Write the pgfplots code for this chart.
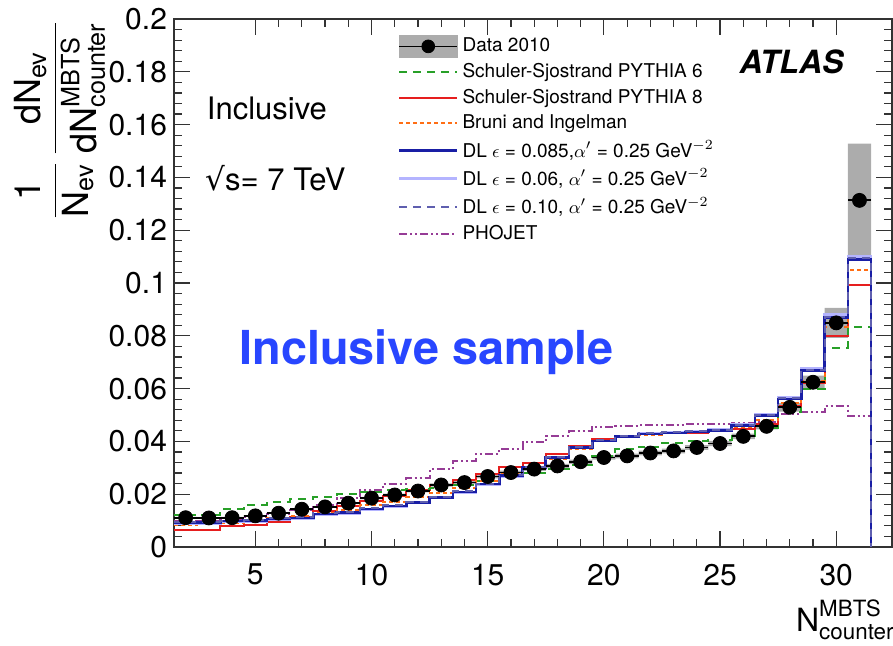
\documentclass[border=0pt]{standalone}
\usepackage{pgfplots}
\pgfplotsset{compat=1.18}
\usepackage{pgfplotstable}
\usepgfplotslibrary{fillbetween}
\usepackage{amsmath}
\usepackage{fontspec}
\setmainfont{TeX Gyre Heros}
\newfontfamily\djv{DejaVu Sans}
\definecolor{cPsix}{RGB}{40,160,40}
\definecolor{cPeight}{RGB}{230,30,30}
\definecolor{cBI}{RGB}{255,110,20}
\definecolor{cDLa}{RGB}{25,30,165}
\definecolor{cDLb}{RGB}{180,180,255}
\definecolor{cDLc}{RGB}{95,95,175}
\definecolor{cPho}{RGB}{150,60,150}
\definecolor{cBlue}{RGB}{40,70,255}
\pgfplotstableread{
e d er p6 p8 bi dla dlb dlc pho
1.5 0.0111 0.0003 0.0120 0.0065 0.0085 0.0092 0.0088 0.0095 0.0098
2.5 0.0110 0.0003 0.0122 0.0066 0.0086 0.0093 0.0089 0.0096 0.0100
3.5 0.0111 0.0003 0.0145 0.0080 0.0092 0.0098 0.0095 0.0100 0.0105
4.5 0.0118 0.0003 0.0160 0.0082 0.0098 0.0100 0.0097 0.0102 0.0112
5.5 0.0128 0.0003 0.0170 0.0095 0.0108 0.0106 0.0103 0.0108 0.0125
6.5 0.0143 0.0004 0.0180 0.0115 0.0118 0.0110 0.0108 0.0112 0.0140
7.5 0.0152 0.0004 0.0188 0.0135 0.0128 0.0125 0.0122 0.0127 0.0160
8.5 0.0166 0.0004 0.0200 0.0155 0.0142 0.0130 0.0128 0.0132 0.0185
9.5 0.0185 0.0005 0.0210 0.0175 0.0158 0.0144 0.0142 0.0146 0.0215
10.5 0.0197 0.0005 0.0215 0.0195 0.0172 0.0156 0.0154 0.0158 0.0240
11.5 0.0212 0.0005 0.0220 0.0215 0.0188 0.0168 0.0166 0.0170 0.0262
12.5 0.0235 0.0006 0.0225 0.0235 0.0205 0.0187 0.0185 0.0189 0.0295
13.5 0.0244 0.0006 0.0235 0.0254 0.0225 0.0209 0.0207 0.0211 0.0326
14.5 0.0267 0.0007 0.0250 0.0277 0.0250 0.0238 0.0236 0.0240 0.0352
15.5 0.0282 0.0007 0.0265 0.0303 0.0280 0.0270 0.0268 0.0272 0.0371
16.5 0.0295 0.0007 0.0280 0.0320 0.0302 0.0300 0.0298 0.0302 0.0396
17.5 0.0307 0.0008 0.0295 0.0352 0.0335 0.0339 0.0337 0.0341 0.0421
18.5 0.0323 0.0008 0.0310 0.0383 0.0370 0.0377 0.0376 0.0379 0.0440
19.5 0.0339 0.0008 0.0345 0.0409 0.0400 0.0402 0.0402 0.0404 0.0453
20.5 0.0345 0.0009 0.0370 0.0421 0.0415 0.0418 0.0418 0.0420 0.0459
21.5 0.0356 0.0009 0.0380 0.0428 0.0425 0.0428 0.0429 0.0430 0.0461
22.5 0.0364 0.0009 0.0395 0.0430 0.0430 0.0432 0.0434 0.0434 0.0463
23.5 0.0377 0.0009 0.0400 0.0433 0.0435 0.0436 0.0439 0.0438 0.0465
24.5 0.0392 0.0010 0.0405 0.0438 0.0442 0.0442 0.0446 0.0444 0.0466
25.5 0.0419 0.0010 0.0420 0.0448 0.0455 0.0460 0.0465 0.0462 0.0468
26.5 0.0457 0.0011 0.0450 0.0467 0.0480 0.0497 0.0503 0.0499 0.0472
27.5 0.0529 0.0016 0.0510 0.0535 0.0545 0.0561 0.0568 0.0563 0.0503
28.5 0.0624 0.0025 0.0600 0.0620 0.0630 0.0668 0.0675 0.0670 0.0510
29.5 0.0849 0.0057 0.0755 0.0800 0.0835 0.0870 0.0880 0.0872 0.0535
30.5 0.1313 0.0215 0.0832 0.0994 0.1050 0.1090 0.1100 0.1095 0.0497
31.5 0.1313 0.0215 0 0 0 0 0 0 0
}\modtab
\begin{document}
\begin{tikzpicture}
\begin{axis}[
  scale only axis, width=359pt, height=264pt,
  xmin=1.5, xmax=32.4, ymin=0, ymax=0.2,
  axis line style={black!80, line width=0.7pt},
  xtick={5,10,15,20,25,30}, xticklabels={5,10,15,20,25,30},
  minor x tick num=4,
  ytick={0,0.02,0.04,0.06,0.08,0.1,0.12,0.14,0.16,0.18,0.2},
  yticklabels={0,0.02,0.04,0.06,0.08,0.1,0.12,0.14,0.16,0.18,0.2},
  minor y tick num=4,
  major tick length=8pt, minor tick length=4pt,
  tick style={black!80, line width=0.6pt},
  tick align=inside,
  ticklabel style={font=\fontsize{15}{15}\selectfont},
  xticklabel style={yshift=-5pt},
  legend style={font=\fontsize{9.5}{11}\selectfont, draw=none, fill=none,
    at={(0.303,0.98)}, anchor=north west, row sep=0.3pt,
    cells={anchor=west}},
  legend image code/.code={\draw[#1] (0pt,0pt) -- (29pt,0pt);},
  clip=true,
]
\addlegendimage{legend image code/.code={
  \fill[gray!65] (0pt,-5.5pt) rectangle (29pt,5.5pt);
  \draw[black, line width=0.8pt] (0pt,0pt) -- (29pt,0pt);
  \fill[black] (14.5pt,0pt) circle (3.2pt);}}
\addlegendentry{Data 2010}
\addlegendimage{cPsix, line width=1pt, dash pattern=on 4pt off 3pt}
\addlegendentry{Schuler-Sjostrand PYTHIA 6}
\addlegendimage{cPeight, line width=1pt}
\addlegendentry{Schuler-Sjostrand PYTHIA 8}
\addlegendimage{cBI, line width=1pt, dash pattern=on 2pt off 1.5pt}
\addlegendentry{Bruni and Ingelman}
\addlegendimage{cDLa, line width=1.3pt}
\addlegendentry{DL $\epsilon$ = 0.085,$\alpha'$ = 0.25 GeV$^{-2}$}
\addlegendimage{cDLb, line width=1.3pt}
\addlegendentry{DL $\epsilon$ = 0.06, $\alpha'$ = 0.25 GeV$^{-2}$}
\addlegendimage{cDLc, line width=1pt, dash pattern=on 4pt off 3pt}
\addlegendentry{DL $\epsilon$ = 0.10, $\alpha'$ = 0.25 GeV$^{-2}$}
\addlegendimage{cPho, line width=1pt, dash pattern=on 4pt off 1.5pt on 1pt off 1.5pt on 1pt off 1.5pt}
\addlegendentry{PHOJET}

% data uncertainty band
\addplot[name path=hi, draw=none, const plot mark left, forget plot] table[x=e, y expr=\thisrow{d}+\thisrow{er}]{\modtab};
\addplot[name path=lo, draw=none, const plot mark left, forget plot] table[x=e, y expr=\thisrow{d}-\thisrow{er}]{\modtab};
\addplot[gray!65, forget plot] fill between[of=hi and lo];

% models
\addplot[cPho, line width=1pt, dash pattern=on 4pt off 1.5pt on 1pt off 1.5pt on 1pt off 1.5pt, const plot mark left, forget plot] table[x=e, y=pho]{\modtab};
\addplot[cPeight, line width=1pt, const plot mark left, forget plot] table[x=e, y=p8]{\modtab};
\addplot[cPsix, line width=1pt, dash pattern=on 4pt off 3pt, const plot mark left, forget plot] table[x=e, y=p6]{\modtab};
\addplot[cBI, line width=1pt, dash pattern=on 2pt off 1.5pt, const plot mark left, forget plot] table[x=e, y=bi]{\modtab};
\addplot[cDLb, line width=1.3pt, const plot mark left, forget plot] table[x=e, y=dlb]{\modtab};
\addplot[cDLa, line width=1.3pt, const plot mark left, forget plot] table[x=e, y=dla]{\modtab};
\addplot[cDLc, line width=1pt, dash pattern=on 4pt off 3pt, const plot mark left, forget plot] table[x=e, y=dlc]{\modtab};

% data
\addplot[black, only marks, mark=*, mark size=3.5pt, forget plot,
  skip coords between index={30}{31},
  error bars/.cd, x dir=both, x fixed=0.5, error mark=none,
  error bar style={line width=0.9pt, black}]
  table[x expr=\thisrow{e}+0.5, y=d]{\modtab};

\node[anchor=west, font=\fontsize{15.5}{16}\selectfont] at (rel axis cs:0.036,0.831) {Inclusive};
\node[anchor=west, font=\fontsize{15.5}{16}\selectfont] at (rel axis cs:0.034,0.699) {{\djv √}s= 7 TeV};
\node[anchor=west, font=\fontsize{16}{16}\bfseries\itshape] at (rel axis cs:0.778,0.919) {ATLAS};
\node[font=\fontsize{23.4}{24}\bfseries, text=cBlue] at (rel axis cs:0.352,0.369) {Inclusive sample};
\end{axis}
\node[rotate=90, anchor=east, inner sep=0pt, font=\fontsize{18}{18}\selectfont] at ([xshift=-57pt,yshift=-0.5pt]current axis.north west)
  {$\displaystyle\frac{\text{1}}{\text{N}_{\text{ev}}}\,\frac{\text{dN}_{\text{ev}}}{\text{dN}^{\text{MBTS}}_{\text{counter}}}$};
\node[anchor=north east, inner sep=0pt, font=\fontsize{16}{16}\selectfont] at ([yshift=-26pt,xshift=1.5pt]current axis.south east)
  {$\text{N}^{\text{MBTS}}_{\text{counter}}$};
\pgfresetboundingbox
\path[use as bounding box] ([xshift=-87pt,yshift=-49.5pt]current axis.south west) rectangle ([xshift=0.5pt,yshift=9.5pt]current axis.north east);
\end{tikzpicture}
\end{document}
